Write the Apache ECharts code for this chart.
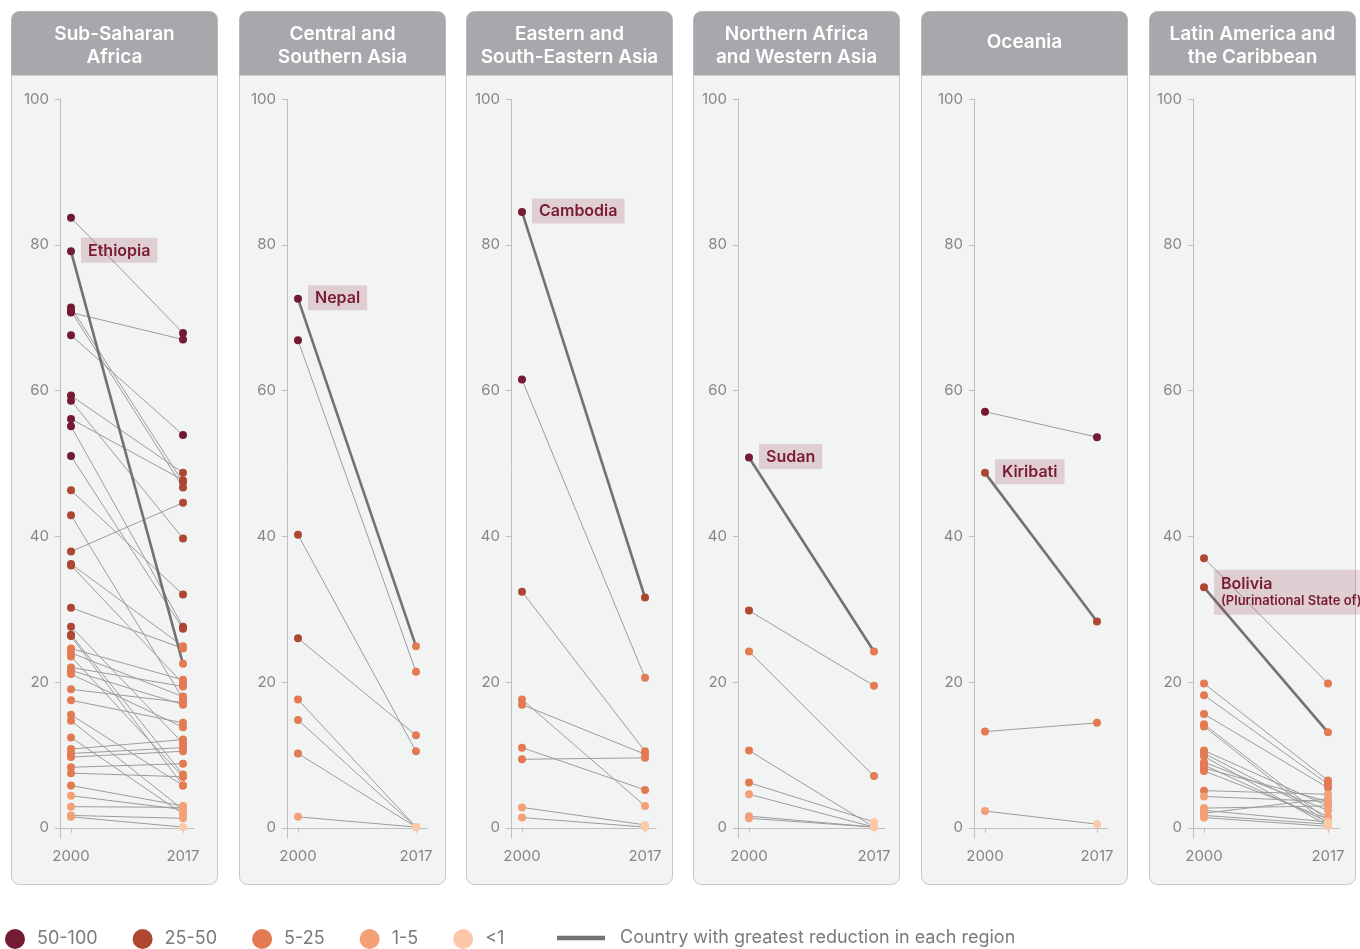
<!DOCTYPE html>
<html><head><meta charset="utf-8">
<script src="https://cdn.jsdelivr.net/npm/echarts@6/dist/echarts.min.js"></script>
<style>html,body{margin:0;padding:0;background:#fff}#c{width:1360px;height:949px}</style>
</head><body><div id="c"></div>
<script>
// ---------- data ----------
const years = [2000, 2017];
const yTicks = [0, 20, 40, 60, 80, 100];
const regionTitles = ['Sub-Saharan\nAfrica', 'Central and\nSouthern Asia', 'Eastern and\nSouth-Eastern Asia',
  'Northern Africa\nand Western Asia', 'Oceania', 'Latin America and\nthe Caribbean'];
const highlightNames = ['Ethiopia', 'Nepal', 'Cambodia', 'Sudan', 'Kiribati', 'Bolivia|(Plurinational State of)'];
const highlightIndex = [1, 0, 0, 0, 1, 1];
const categoryNames = ['50-100', '25-50', '5-25', '1-5', '<1'];
const categoryLower = [50, 25, 5, 1, -Infinity];
const reductionName = 'Country with greatest reduction in each region';

const ssa2000 = [83.7, 79.1, 71.4, 70.9, 70.7, 67.6, 59.3, 58.6, 56.1, 55.1, 51.0, 46.3, 42.9, 37.9, 36.2, 36.0, 30.2, 27.6, 26.5, 26.3, 24.6, 24.0, 23.5, 22.0, 21.6, 21.1, 19.0, 17.5, 15.5, 14.7, 12.4, 10.8, 10.2, 9.7, 8.3, 7.5, 5.8, 4.4, 2.9, 1.7, 1.5];
const ssa2017 = [67.9, 22.5, 47.4, 46.7, 67.0, 53.9, 48.7, 39.7, 47.7, 27.6, 27.3, 32.0, 17.7, 44.6, 24.9, 19.8, 24.6, 11.6, 7.3, 5.8, 20.3, 18.0, 7.0, 19.4, 16.9, 13.8, 17.2, 14.4, 5.8, 2.5, 1.9, 12.1, 11.0, 10.5, 8.8, 7.0, 3.0, 2.5, 2.8, 1.3, 0.1];
const csa2000 = [72.6, 66.9, 40.2, 26.0, 17.6, 14.8, 10.2, 1.5];
const csa2017 = [24.9, 21.4, 10.5, 12.7, 0.1, 0.1, 0.1, 0.1];
const esa2000 = [84.5, 61.5, 32.4, 17.6, 16.9, 11.0, 9.4, 2.8, 1.4];
const esa2017 = [31.6, 20.6, 10.5, 3.0, 10.1, 5.2, 9.6, 0.4, 0.1];
const nawa2000 = [50.8, 29.8, 24.2, 10.6, 6.2, 4.6, 1.6, 1.3];
const nawa2017 = [24.2, 19.5, 7.1, 0.1, 0.8, 0.1, 0.1, 0.1];
const oce2000 = [57.1, 48.7, 13.2, 2.3];
const oce2017 = [53.6, 28.3, 14.4, 0.5];
const lac2000 = [37.0, 33.0, 19.8, 18.2, 15.6, 14.2, 13.9, 10.6, 10.2, 9.8, 9.0, 8.6, 8.2, 7.8, 5.1, 4.3, 2.7, 2.4, 2.0, 1.7, 1.4];
const lac2017 = [19.8, 13.1, 6.5, 6.0, 5.5, 1.0, 0.5, 3.0, 1.5, 0.3, 2.4, 0.8, 3.6, 1.2, 4.6, 3.6, 3.0, 0.8, 4.0, 0.5, 0.2];

// ---------- layout & style ----------
const series2000 = [ssa2000, csa2000, esa2000, nawa2000, oce2000, lac2000];
const series2017 = [ssa2017, csa2017, esa2017, nawa2017, oce2017, lac2017];
const panelLeft = [11, 239, 466, 693, 921, 1149];
const panelW = 206, panelTop = 11, panelH = 873, headerH = 64;
const gridLeft = [60, 287, 511, 738, 974, 1193];
const gridW = [134, 140, 145, 147, 134, 146];
const gridTop = 99, gridH = 739;
const categoryColors = ['#741a32', '#ae4632', '#e37a52', '#f4a077', '#fcc8a8'];
const FONT = 'Inter, "Noto Sans", sans-serif';
const labelColor = '#7a1b33';

function catOf(v) { for (let i = 0; i < categoryLower.length; i++) if (v >= categoryLower[i]) return i; return 4; }

const chart = echarts.init(document.getElementById('c'));
const grids = [], xAxes = [], yAxes = [], series = [], graphics = [];

for (let p = 0; p < 6; p++) {
  grids.push({ left: gridLeft[p], top: gridTop, width: gridW[p], height: gridH });
  const pad = 11 * (years[1] - years[0]) / (gridW[p] - 22);
  xAxes.push({
    type: 'value', gridIndex: p, min: years[0] - pad, max: years[1] + pad,
    axisLine: { show: true, lineStyle: { color: '#bfbfbf', width: 1 } },
    axisTick: { show: true, customValues: years, length: 5, lineStyle: { color: '#bfbfbf' } },
    axisLabel: { customValues: years, formatter: v => String(v), color: '#858585', fontSize: 15, margin: 11, fontFamily: FONT },
    splitLine: { show: false }
  });
  yAxes.push({
    type: 'value', gridIndex: p, min: -1.4, max: 100,
    axisLine: { show: true, lineStyle: { color: '#bfbfbf', width: 1 } },
    axisTick: { show: true, customValues: yTicks, length: 5, lineStyle: { color: '#bfbfbf' } },
    axisLabel: { customValues: yTicks, color: '#858585', fontSize: 15, margin: 11, fontFamily: FONT },
    splitLine: { show: false }
  });

  const a = series2000[p], b = series2017[p], hi = highlightIndex[p];
  const thin = [], bold = [];
  a.forEach((v, i) => {
    const item = { coords: [[years[0], v], [years[1], b[i]]] };
    (i === hi ? bold : thin).push(item);
  });
  series.push({ type: 'lines', coordinateSystem: 'cartesian2d', xAxisIndex: p, yAxisIndex: p, silent: true, z: 2,
    data: thin, lineStyle: { color: '#9c9c9c', width: 1, opacity: 1 } });
  series.push({ type: 'lines', name: reductionName, coordinateSystem: 'cartesian2d', xAxisIndex: p, yAxisIndex: p, silent: true, z: 3,
    data: bold, itemStyle: { color: '#727272' }, lineStyle: { color: '#727272', width: 2.6, opacity: 1 } });

  const nameParts = highlightNames[p].split('|');
  const twoLine = nameParts.length > 1;
  const formatter = twoLine ? '{a|' + nameParts[0] + '}\n{b|' + nameParts[1] + '}' : '{a|' + nameParts[0] + '}';
  for (let c = 0; c < 5; c++) {
    const pts = [];
    a.forEach((v, i) => {
      if (catOf(v) === c) {
        const item = { value: [years[0], v] };
        if (i === hi) {
          item.label = {
            show: true, position: 'right', distance: 6, formatter,
            offset: twoLine ? [0, 5] : [0, -1],
            backgroundColor: 'rgba(150,60,85,0.2)', padding: twoLine ? [5, 7, 5, 7] : [4, 7, 3, 7],
            rich: {
              a: { color: labelColor, fontFamily: FONT, fontWeight: 600, fontSize: 16, lineHeight: 18 },
              b: { color: labelColor, fontFamily: FONT, fontWeight: 600, fontSize: 13, lineHeight: 17 }
            }
          };
        }
        pts.push(item);
      }
    });
    b.forEach(v => { if (catOf(v) === c) pts.push({ value: [years[1], v] }); });
    series.push({ type: 'scatter', name: categoryNames[c], xAxisIndex: p, yAxisIndex: p, z: 4, silent: true,
      symbolSize: 8, itemStyle: { color: categoryColors[c], opacity: 1 }, data: pts });
  }

  // panel decoration
  const titleLines = regionTitles[p].split('\n').length;
  graphics.push({ type: 'rect', z: -10, silent: true,
    shape: { x: panelLeft[p] + 0.5, y: panelTop + 0.5, width: panelW, height: panelH, r: 8 },
    style: { fill: '#f2f4f3', stroke: '#c8c8c8', lineWidth: 1 } });
  graphics.push({ type: 'rect', z: -9, silent: true,
    shape: { x: panelLeft[p] + 0.5, y: panelTop + 0.5, width: panelW, height: headerH, r: [8, 8, 0, 0] },
    style: { fill: '#a7a8ab' } });
  graphics.push({ type: 'text', z: -8, silent: true,
    style: { text: regionTitles[p], x: panelLeft[p] + panelW / 2 + 0.5, y: titleLines > 1 ? 45.5 : 42,
      align: 'center', verticalAlign: 'middle', fill: '#ffffff', font: '600 19px ' + FONT, lineHeight: 23 } });
}

chart.setOption({
  backgroundColor: '#ffffff',
  animation: false,
  grid: grids, xAxis: xAxes, yAxis: yAxes, series,
  graphic: { elements: graphics },
  legend: [
    { data: categoryNames.map(n => ({ name: n, icon: 'circle' })), left: 5, top: 929, padding: 0, itemWidth: 20, itemHeight: 20,
      itemGap: 35, selectedMode: false, textStyle: { color: '#7a7a7a', fontSize: 18, fontFamily: FONT, padding: [0, 0, 0, 7] } },
    { data: [{ name: reductionName, icon: 'path://M0 0H46V2.4H0Z', itemStyle: { color: '#777' } }], left: 557, top: 929, padding: 0,
      itemWidth: 46, itemHeight: 20, selectedMode: false,
      textStyle: { color: '#7a7a7a', fontSize: 18, fontFamily: FONT, padding: [0, 0, 0, 11] } }
  ]
});
</script></body></html>
